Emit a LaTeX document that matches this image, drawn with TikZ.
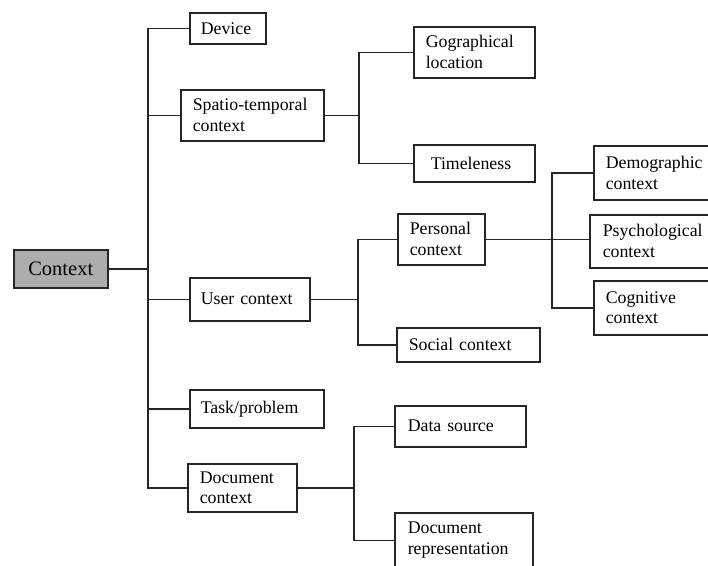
\documentclass[tikz,border=0pt]{standalone}
\usepackage{fontspec}
\setmainfont{Liberation Serif}
\begin{document}
\begin{tikzpicture}[x=1pt,y=-1pt,
  box/.style={draw=black!85, line width=1.5pt, fill=white, anchor=north west, align=left,
    inner ysep=0pt, font=\fontsize{17.8}{20.8}\selectfont},
  link/.style={draw=black!85, line width=1.5pt}]
\useasboundingbox (0,0) rectangle (708,565);
\clip (0,0) rectangle (708,565);
\fill[white] (0,0) rectangle (708,565);
% root
\node[box, fill=black!32, minimum width=94pt, minimum height=38pt, inner xsep=0pt, text width=94pt, align=center,
  font=\fontsize{20.5}{24}\selectfont] (ctx) at (13,249) {Context};
% level 1
\node[box, minimum width=76pt, minimum height=31pt, inner xsep=11pt, text width=54pt] (device) at (189,12) {Device};
\node[box, minimum width=143pt, minimum height=51pt, inner xsep=12pt, text width=119pt] (spatio) at (180,89) {Spatio-temporal\\context};
\node[box, minimum width=120pt, minimum height=43pt, inner xsep=11pt, text width=98pt] (user) at (189,277) {User context};
\node[box, minimum width=134pt, minimum height=38pt, inner xsep=11pt, text width=112pt] (task) at (189,389) {Task/problem};
\node[box, minimum width=109pt, minimum height=48pt, inner xsep=12pt, text width=85pt] (doc) at (187,463) {Document\\context};
% level 2
\node[box, minimum width=121pt, minimum height=51pt, inner xsep=12pt, text width=97pt] (geo) at (413,26) {Gographical\\location};
\node[box, minimum width=121pt, minimum height=37pt, inner xsep=17pt, text width=87pt] (time) at (413,144) {Timeleness};
\node[box, minimum width=87pt, minimum height=51pt, inner xsep=12pt, text width=63pt] (personal) at (397,213) {Personal\\context};
\node[box, minimum width=143pt, minimum height=34pt, inner xsep=12pt, text width=119pt] (social) at (396,327) {Social context};
\node[box, minimum width=131pt, minimum height=41pt, inner xsep=13pt, text width=105pt] (data) at (394,405) {Data source};
\node[box, minimum width=138pt, minimum height=55pt, inner xsep=13pt, text width=112pt] (docrep) at (394,512) {Document\\representation};
% level 3
\node[box, minimum width=125pt, minimum height=54pt, inner xsep=12pt, text width=101pt] (demo) at (593,145) {Demographic\\context};
\node[box, minimum width=129pt, minimum height=53pt, inner xsep=13pt, text width=103pt] (psych) at (589,214) {Psychological\\context};
\node[box, minimum width=125pt, minimum height=54pt, inner xsep=12pt, text width=101pt] (cog) at (593,280) {Cognitive\\context};
% trunks
\coordinate (t0) at (148,0);
\coordinate (t1) at (359,0);
\coordinate (t2) at (358,0);
\coordinate (t3) at (552,0);
\coordinate (t4) at (354,0);
% root connectors
\draw[link] (ctx.east) -- (ctx.east -| t0);
\draw[link] (device.west) -| (t0 |- doc.west) -- (doc.west);
\draw[link] (spatio.west) -- (spatio.west -| t0);
\draw[link] (user.west) -- (user.west -| t0);
\draw[link] (task.west) -- (task.west -| t0);
% spatio-temporal
\draw[link] (spatio.east) -- (spatio.east -| t1);
\draw[link] (geo.west) -| (t1 |- time.west) -- (time.west);
% user
\draw[link] (user.east) -- (user.east -| t2);
\draw[link] (personal.west) -| (t2 |- social.west) -- (social.west);
% personal
\draw[link] (personal.east) -- (personal.east -| psych.west);
\draw[link] (demo.west) -| (t3 |- cog.west) -- (cog.west);
% document
\draw[link] (doc.east) -- (doc.east -| t4);
\draw[link] (data.west) -| (t4 |- docrep.west) -- (docrep.west);
\end{tikzpicture}
\end{document}
